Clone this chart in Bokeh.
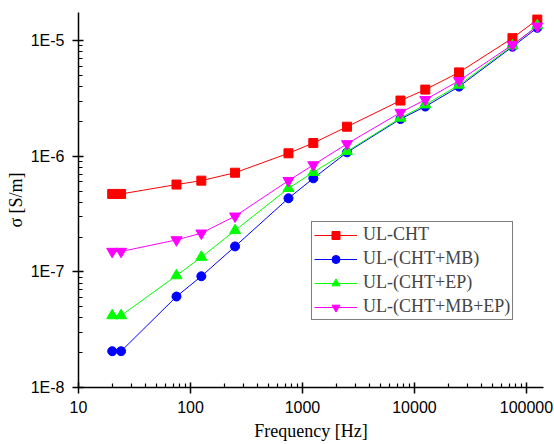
from bokeh.plotting import figure
from bokeh.models import FixedTicker, CustomJSTickFormatter, Range1d, Legend, LegendItem
from bokeh.embed import file_html
from bokeh.resources import INLINE

freq = [20, 24, 75, 125, 250, 750, 1250, 2500, 7500, 12500, 25000, 75000, 125000]
ul_cht = [4.72e-7, 4.72e-7, 5.69e-7, 6.15e-7, 7.2e-7, 1.06e-6, 1.30e-6, 1.80e-6, 3.03e-6, 3.77e-6, 5.31e-6, 1.05e-5, 1.52e-5]
ul_cht_mb = [2.06e-8, 2.06e-8, 6.12e-8, 9.16e-8, 1.66e-7, 4.33e-7, 6.44e-7, 1.08e-6, 2.10e-6, 2.69e-6, 4.0e-6, 8.85e-6, 1.29e-5]
ul_cht_ep = [4.19e-8, 4.19e-8, 9.29e-8, 1.34e-7, 2.28e-7, 5.28e-7, 7.26e-7, 1.10e-6, 2.14e-6, 2.79e-6, 4.13e-6, 9.03e-6, 1.35e-5]
ul_cht_mb_ep = [1.50e-7, 1.50e-7, 1.89e-7, 2.16e-7, 3.03e-7, 6.15e-7, 8.41e-7, 1.28e-6, 2.39e-6, 3.08e-6, 4.5e-6, 9.2e-6, 1.33e-5]

series_names = ["UL-CHT", "UL-(CHT+MB)", "UL-(CHT+EP)", "UL-(CHT+MB+EP)"]
x_major = [10, 100, 1000, 10000, 100000]
y_major = [1e-8, 1e-7, 1e-6, 1e-5]

p = figure(frame_width=465, frame_height=375, x_axis_type="log", y_axis_type="log",
           output_backend="svg", toolbar_location=None,
           x_range=Range1d(10, 142000), y_range=Range1d(1e-8, 1.75e-5),
           min_border_left=78, min_border_right=11, min_border_top=12, min_border_bottom=57)
p.outline_line_color = None
p.xgrid.visible = False
p.ygrid.visible = False

x_minor = [m * d for d in [10, 100, 1000, 10000, 100000] for m in range(2, 10)]
y_minor = [m * d for d in [1e-8, 1e-7, 1e-6, 1e-5] for m in range(2, 10)]
p.xaxis.ticker = FixedTicker(ticks=x_major, minor_ticks=x_minor)
p.yaxis.ticker = FixedTicker(ticks=y_major, minor_ticks=y_minor)
p.xaxis.formatter = CustomJSTickFormatter(code="return Math.round(tick).toString();")
p.yaxis.formatter = CustomJSTickFormatter(code="return '1E' + Math.round(Math.log10(tick));")

for ax in (p.xaxis, p.yaxis):
    ax.axis_line_width = 1.5
    ax.major_tick_line_width = 1.5
    ax.minor_tick_line_width = 1.2
    ax.major_tick_in = 5
    ax.major_tick_out = 6
    ax.minor_tick_in = 4
    ax.minor_tick_out = 0
    ax.major_label_text_font = "Liberation Sans"
    ax.major_label_text_font_size = "16px"
    ax.major_label_text_color = "black"
    ax.axis_label_text_font = "Liberation Serif"
    ax.axis_label_text_font_size = "18px"
    ax.axis_label_text_font_style = "normal"
    ax.axis_label_text_color = "black"
    ax.axis_line_color = "black"
    ax.major_tick_line_color = "black"
    ax.minor_tick_line_color = "black"

p.xaxis.axis_label = "Frequency [Hz]"
p.yaxis.axis_label = "σ [S/m]"
p.xaxis.major_label_standoff = 7
p.yaxis.major_label_standoff = 8
p.xaxis.axis_label_standoff = 5
p.yaxis.axis_label_standoff = 2

items = []
l1 = p.line(freq, ul_cht, color="#FF0000", line_width=1)
m1 = p.scatter(freq, ul_cht, marker="square", size=9, color="#FF0000")
items.append(LegendItem(label=series_names[0], renderers=[l1, m1]))
l2 = p.line(freq, ul_cht_mb, color="#0000FF", line_width=1)
m2 = p.scatter(freq, ul_cht_mb, marker="circle", size=9, color="#0000FF")
items.append(LegendItem(label=series_names[1], renderers=[l2, m2]))
l3 = p.line(freq, ul_cht_ep, color="#00FF00", line_width=1)
m3 = p.scatter(freq, ul_cht_ep, marker="triangle", size=11, color="#00FF00")
items.append(LegendItem(label=series_names[2], renderers=[l3, m3]))
l4 = p.line(freq, ul_cht_mb_ep, color="#FF00FF", line_width=1)
m4 = p.scatter(freq, ul_cht_mb_ep, marker="inverted_triangle", size=11, color="#FF00FF")
items.append(LegendItem(label=series_names[3], renderers=[l4, m4]))

legend = Legend(items=items, location=(233, 67))
legend.border_line_color = "black"
legend.border_line_width = 1
legend.background_fill_alpha = 1
legend.label_text_font = "Liberation Serif"
legend.label_text_font_size = "18px"
legend.glyph_width = 43
legend.glyph_height = 20
legend.label_height = 20
legend.spacing = 3
legend.padding = 2
legend.margin = 0
legend.label_standoff = 6
p.add_layout(legend, "center")

open("out.html", "w").write(file_html(p, INLINE))
